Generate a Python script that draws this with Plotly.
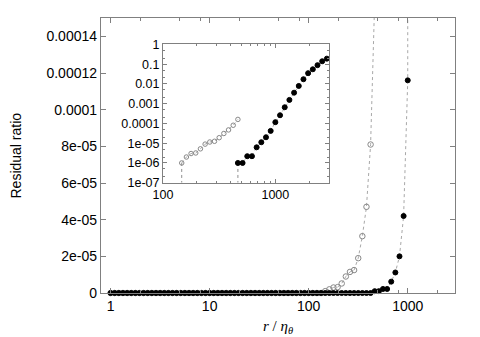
import numpy as np
import plotly.graph_objects as go

# r / eta_theta sample grid (log spaced)
r_values = [
    1.0, 1.1007, 1.2115, 1.3335, 1.4678, 1.6156, 1.7783, 1.9573, 2.1544, 2.3714, 2.6102, 2.8730,
    3.1623, 3.4807, 3.8312, 4.2170, 4.6416, 5.1090, 5.6234, 6.1897, 6.8129, 7.4989, 8.2540, 9.0852,
    10.0, 11.007, 12.115, 13.335, 14.678, 16.156, 17.783, 19.573, 21.544, 23.714, 26.102, 28.730,
    31.623, 34.807, 38.312, 42.170, 46.416, 51.090, 56.234, 61.897, 68.129, 74.989, 82.540, 90.852,
    100.0, 110.07, 121.15, 133.35, 146.78, 161.56, 177.83, 195.73, 215.44, 237.14, 261.02, 287.30,
    316.23, 348.07, 383.12, 421.70, 464.16, 510.90, 562.34, 618.97, 681.29, 749.89, 825.40, 908.52,
    1000.0, 1100.7, 1211.5, 1333.5, 1467.8, 1615.6, 1778.3, 1957.3, 2154.4, 2371.4, 2610.2, 2873.0,
]

# open-circle series (first 65 grid points)
open_values = [0.0] * 52 + [
    1.0e-6, 2.0e-6, 3.0e-6, 3.2e-6, 5.2e-6, 9.0e-6, 1.15e-5, 1.25e-5, 1.9e-5, 3.1e-5, 4.7e-5, 8.1e-5, 1.6e-4,
]

# filled-circle series (all 84 grid points)
filled_values = [0.0] * 64 + [
    1.0e-6, 1.0e-6, 2.2e-6, 2.2e-6, 6.2e-6, 1.12e-5, 2.0e-5, 4.2e-5, 1.16e-4, 2.6e-4,
    6.6e-4, 1.55e-3, 3.6e-3, 7.9e-3, 0.0173, 0.035, 0.055, 0.089, 0.14, 0.19,
]

main_ytick_vals = [0, 2e-5, 4e-5, 6e-5, 8e-5, 1e-4, 1.2e-4, 1.4e-4]
main_ytick_text = ["0", "2e-05", "4e-05", "6e-05", "8e-05", "0.0001", "0.00012", "0.00014"]
main_xtick_vals = [1, 10, 100, 1000]
main_xtick_text = ["1", "10", "100", "1000"]
inset_ytick_vals = [1e-7, 1e-6, 1e-5, 1e-4, 1e-3, 1e-2, 1e-1, 1]
inset_ytick_text = ["1e-07", "1e-06", "1e-05", "0.0001", "0.001", "0.01", "0.1", "1"]
inset_xtick_vals = [100, 1000]
inset_xtick_text = ["100", "1000"]

YMAX = 0.00015
r_open = np.array(r_values[:len(open_values)])
v_open = np.array(open_values)
r_fill = np.array(r_values[:len(filled_values)])
v_fill = np.array(filled_values)

LINE_C = "#a8a8a8"
OPEN_C = "#888888"
AX_C = "#808080"
FONT = "Liberation Sans, Arial, sans-serif"

fig = go.Figure()

# ---- main plot ----
for rr, vv, filled in [(r_open, v_open, False), (r_fill, v_fill, True)]:
    fig.add_trace(go.Scatter(x=rr, y=vv, mode="lines",
                             line=dict(color=LINE_C, width=1, dash="dot"),
                             xaxis="x", yaxis="y", showlegend=False, hoverinfo="skip"))
    m = vv <= YMAX
    fig.add_trace(go.Scatter(
        x=rr[m], y=vv[m], mode="markers", cliponaxis=False,
        marker=dict(symbol="circle" if filled else "circle-open",
                    size=5 if filled else 5.5,
                    color="black" if filled else OPEN_C,
                    line=dict(width=1, color="black" if filled else OPEN_C)),
        xaxis="x", yaxis="y", showlegend=False))

# ---- inset ----
INSET_YMIN = 1e-7
for rr, vv, filled in [(r_open, v_open, False), (r_fill, v_fill, True)]:
    pos = vv > 0
    i0 = int(np.argmax(pos))
    fig.add_trace(go.Scatter(x=[rr[i0], rr[i0]], y=[vv[i0], INSET_YMIN], mode="lines",
                             line=dict(color="#909090", width=1, dash="dot"),
                             cliponaxis=False,
                             xaxis="x2", yaxis="y2", showlegend=False, hoverinfo="skip"))
    fig.add_trace(go.Scatter(
        x=rr[pos], y=vv[pos], mode="lines+markers",
        line=dict(color=LINE_C, width=1, dash="dot"),
        marker=dict(symbol="circle" if filled else "circle-open",
                    size=5 if filled else 4.5,
                    color="black" if filled else OPEN_C,
                    line=dict(width=1, color="black" if filled else OPEN_C)),
        xaxis="x2", yaxis="y2", showlegend=False))

common_axis = dict(showline=True, linecolor=AX_C, linewidth=1.3, mirror="ticks",
                   ticks="inside", tickcolor=AX_C, showgrid=False, zeroline=False,
                   automargin=False,
                   tickfont=dict(family=FONT, size=14, color="black"))

# page body has an 8px margin: figure is sized / offset to compensate
fig.update_layout(
    width=472, height=329,
    margin=dict(l=93, r=25, t=10, b=44, autoexpand=False),
    paper_bgcolor="white", plot_bgcolor="white",
    xaxis=dict(**common_axis, type="log", range=[np.log10(0.8), np.log10(3000)],
               tickmode="array", tickvals=main_xtick_vals, ticktext=main_xtick_text,
               ticklen=5, tickwidth=1,
               minor=dict(tickmode="array",
                          tickvals=[2, 5, 8, 20, 50, 80, 200, 500, 800, 2000],
                          ticks="inside", ticklen=3, tickcolor=AX_C),
               domain=[0, 1], anchor="y"),
    yaxis=dict(**common_axis, range=[0, YMAX],
               tickmode="array", tickvals=main_ytick_vals, ticktext=main_ytick_text,
               ticklen=5, tickwidth=1,
               domain=[0, 1], anchor="x"),
    xaxis2=dict(showline=True, linecolor=AX_C, linewidth=1, mirror="ticks",
                ticks="inside", tickcolor=AX_C, showgrid=False, zeroline=False,
                automargin=False,
                tickfont=dict(family=FONT, size=12.5, color="black"),
                type="log", range=[2, np.log10(3000)],
                tickmode="array", tickvals=inset_xtick_vals, ticktext=inset_xtick_text,
                ticklen=4,
                minor=dict(tickmode="array",
                           tickvals=[200, 300, 400, 500, 600, 700, 800, 900, 2000, 3000],
                           ticks="inside", ticklen=2, tickcolor=AX_C),
                domain=[0.1751, 0.644], anchor="y2"),
    yaxis2=dict(showline=True, linecolor=AX_C, linewidth=1, mirror="ticks",
                ticks="inside", tickcolor=AX_C, showgrid=False, zeroline=False,
                automargin=False,
                tickfont=dict(family=FONT, size=12.5, color="black"),
                type="log", range=[-7, 0],
                tickmode="array", tickvals=inset_ytick_vals, ticktext=inset_ytick_text,
                ticklen=4,
                minor=dict(dtick="D2", ticks="inside", ticklen=2, tickcolor=AX_C),
                domain=[0.401, 0.904], anchor="x2"),
    annotations=[
        dict(text="Residual ratio", xref="paper", yref="paper",
             x=(15 - 101) / 354, y=0.5, textangle=-90, showarrow=False,
             xanchor="center", yanchor="middle",
             font=dict(family=FONT, size=14, color="black")),
        dict(text="<i>r</i> / <i>η</i><sub><i>θ</i></sub>", xref="paper", yref="paper",
             x=0.5, y=(293 - 327) / 275, showarrow=False,
             xanchor="center", yanchor="middle",
             font=dict(family="Liberation Serif, Times New Roman, serif", size=15, color="black")),
    ],
)

fig.write_html("out.html")
